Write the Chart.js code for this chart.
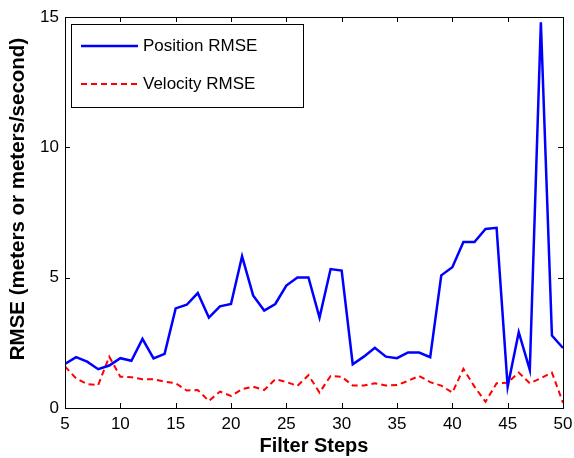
<!DOCTYPE html>
<html>
<head>
<meta charset="utf-8">
<script src="https://cdn.jsdelivr.net/npm/chart.js@4"></script>
<style>
  html, body { margin: 0; padding: 0; background: #fff; }
  #wrap { width: 574px; height: 458px; }
</style>
</head>
<body>
<div id="wrap"><canvas id="rmseChart"></canvas></div>
<script>
// filter steps 5..50
const steps = [5,6,7,8,9,10,11,12,13,14,15,16,17,18,19,20,21,22,23,24,25,26,27,28,29,30,
               31,32,33,34,35,36,37,38,39,40,41,42,43,44,45,46,47,48,49,50];

const positionRmse = [1.69,1.95,1.78,1.49,1.63,1.91,1.81,2.65,1.9,2.08,3.82,3.96,4.41,3.47,3.9,3.99,
                      5.82,4.32,3.74,3.99,4.7,5.01,5.01,3.47,5.33,5.27,1.68,1.97,2.31,1.97,1.91,2.13,
                      2.13,1.95,5.09,5.4,6.37,6.37,6.87,6.91,0.82,2.91,1.46,14.8,2.78,2.3];

const velocityRmse = [1.59,1.14,0.92,0.88,1.97,1.2,1.18,1.1,1.1,1.01,0.95,0.67,0.69,0.27,0.63,0.46,
                      0.72,0.82,0.69,1.1,1.0,0.85,1.26,0.59,1.23,1.2,0.86,0.86,0.95,0.86,0.88,1.04,
                      1.23,0.99,0.86,0.59,1.5,0.82,0.24,0.95,0.97,1.36,0.95,1.14,1.36,0.2];

const xTicks = [5,10,15,20,25,30,35,40,45,50];
const yTicks = [0,5,10,15];
const yTitle = 'RMSE (meters or meters/second)';

const FONT = "Arial, 'Liberation Sans', sans-serif";

// box around the axes, inward ticks on all four sides, legend in the top-left corner
const framePlugin = {
    id: 'frame',
    afterDraw(chart) {
        const ctx = chart.ctx;
        const a = chart.chartArea;
        const xs = chart.scales.x, ys = chart.scales.y;
        ctx.save();
        ctx.strokeStyle = '#000';
        ctx.lineWidth = 1;
        ctx.strokeRect(a.left + 0.5, a.top + 0.5, a.right - a.left, a.bottom - a.top);
        ctx.beginPath();
        xTicks.forEach(v => {
            const px = Math.round(xs.getPixelForValue(v)) + 0.5;
            ctx.moveTo(px, a.bottom); ctx.lineTo(px, a.bottom - 5);
            ctx.moveTo(px, a.top); ctx.lineTo(px, a.top + 5);
        });
        yTicks.forEach(v => {
            const py = Math.round(ys.getPixelForValue(v)) + 0.5;
            ctx.moveTo(a.left, py); ctx.lineTo(a.left + 5, py);
            ctx.moveTo(a.right, py); ctx.lineTo(a.right - 5, py);
        });
        ctx.stroke();

        // y axis title (drawn here so it can sit a little above centre, like the original)
        ctx.save();
        ctx.translate(18, 199);
        ctx.rotate(-Math.PI / 2);
        ctx.font = 'bold 20.5px ' + FONT;
        ctx.fillStyle = '#000';
        ctx.textAlign = 'center';
        ctx.textBaseline = 'middle';
        ctx.fillText(yTitle, 0, 0);
        ctx.restore();

        // legend
        const bx = a.left + 6, by = a.top + 7, bw = 232, bh = 83;
        ctx.fillStyle = '#fff';
        ctx.fillRect(bx, by, bw, bh);
        ctx.strokeRect(bx + 0.5, by + 0.5, bw, bh);
        ctx.font = '17px ' + FONT;
        ctx.textBaseline = 'middle';
        chart.data.datasets.forEach((ds, i) => {
            const ly = by + 22 + i * 38;
            ctx.beginPath();
            ctx.strokeStyle = ds.borderColor;
            ctx.lineWidth = ds.borderWidth;
            ctx.setLineDash(ds.borderDash || []);
            ctx.moveTo(bx + 10, ly); ctx.lineTo(bx + 67, ly);
            ctx.stroke();
            ctx.setLineDash([]);
            ctx.fillStyle = '#000';
            ctx.fillText(ds.label, bx + 72, ly);
        });
        ctx.restore();
    }
};

const ctx = document.getElementById('rmseChart').getContext('2d');
new Chart(ctx, {
    type: 'line',
    data: {
        labels: steps,
        datasets: [{
            label: 'Position RMSE',
            data: steps.map((s, i) => ({ x: s, y: positionRmse[i] })),
            borderColor: '#0000ff',
            borderWidth: 2.5,
            pointRadius: 0,
            tension: 0,
            fill: false
        }, {
            label: 'Velocity RMSE',
            data: steps.map((s, i) => ({ x: s, y: velocityRmse[i] })),
            borderColor: '#ff0000',
            borderWidth: 2,
            borderDash: [6, 4],
            pointRadius: 0,
            tension: 0,
            fill: false
        }]
    },
    options: {
        responsive: true,
        maintainAspectRatio: false,
        animation: false,
        layout: { padding: { left: 0, top: 17, right: 11, bottom: 0 } },
        plugins: {
            legend: { display: false },
            tooltip: { enabled: false }
        },
        scales: {
            x: {
                type: 'linear',
                min: 5,
                max: 50,
                afterBuildTicks: scale => { scale.ticks = xTicks.map(v => ({ value: v })); },
                afterFit: scale => {
                    scale.height = 50;
                    scale.paddingLeft = 0;
                    scale.paddingRight = 0;
                },
                grid: { display: false, drawTicks: false },
                border: { display: false },
                ticks: { color: '#000', font: { size: 17, family: FONT }, padding: 6, maxRotation: 0 },
                title: {
                    display: true,
                    text: 'Filter Steps',
                    color: '#000',
                    font: { size: 20, weight: 'bold', family: FONT },
                    padding: { top: 0, bottom: 0 }
                }
            },
            y: {
                min: 0,
                max: 15,
                afterBuildTicks: scale => { scale.ticks = yTicks.map(v => ({ value: v })); },
                afterFit: scale => { scale.width = 65; },
                grid: { display: false, drawTicks: false },
                border: { display: false },
                ticks: { color: '#000', font: { size: 17, family: FONT }, padding: 6 }
            }
        }
    },
    plugins: [framePlugin]
});
</script>
</body>
</html>
